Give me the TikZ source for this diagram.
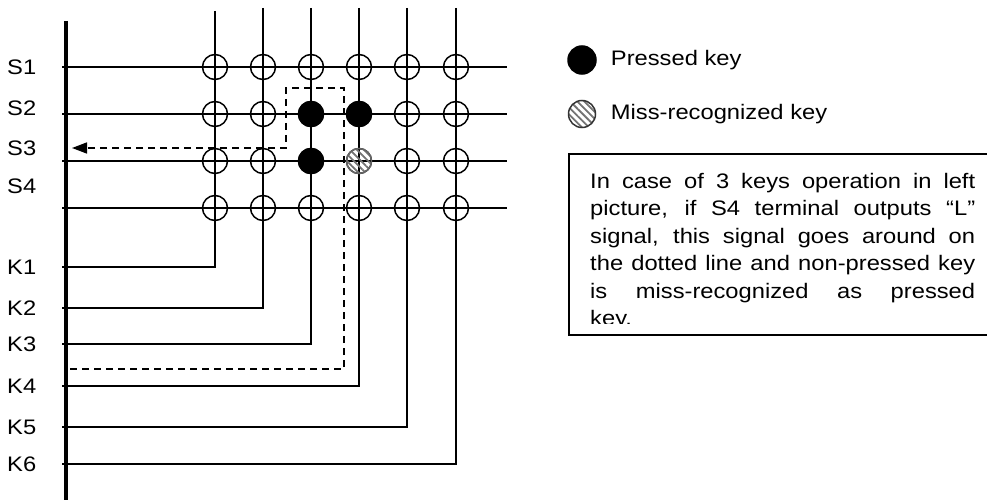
\documentclass[tikz,border=0pt]{standalone}
\usepackage{fontspec}
\setmainfont{Liberation Sans}[FakeStretch=1.13]
\usetikzlibrary{arrows.meta,patterns.meta,positioning}
\tikzstyle{wire} = [draw, line width=1.5pt]
\tikzstyle{bus} = [draw, line width=4pt]
\tikzstyle{sig} = [draw, line width=1.5pt, dash pattern=on 7pt off 5pt, -{Triangle[length=15pt, width=11pt]}]
\tikzstyle{key} = [circle, draw, line width=1.5pt, minimum size=25pt, inner sep=0pt]
\tikzstyle{pressed} = [key, fill=black]
\tikzstyle{missed} = [key, draw=black!60, pattern={Lines[angle=-45, distance=5pt, line width=1.8pt]}, pattern color=black!55]
\tikzstyle{lbl} = [anchor=west, inner sep=0pt, font=\fontsize{21}{25}\selectfont]
\tikzstyle{note_txt} = [anchor=base west, inner sep=0pt, text width=385pt, align=justify, font=\fontsize{21}{27.5}\selectfont]

\begin{document}
\begin{tikzpicture}[x=1pt, y=-1pt]
	\useasboundingbox (0,0) rectangle (987,500);
	
	% scan and key-return lines
	\coordinate (bus_top) at (66,21);
	\coordinate (bus_bot) at (66,500);
	
	\foreach \r/\y/\ty in {1/67/67, 2/114/108, 3/161/148, 4/208/186} {
		\coordinate (S_\r_in) at (62,\y);
		\coordinate (S_\r_out) at (507,\y);
		\path [wire] (S_\r_in) to (S_\r_out);
		\node [lbl] (S_\r) at (7,\ty) {S\r};
	}
	
	\foreach \c/\x/\top/\k in {1/215/11/267, 2/263/8/308, 3/311/8/344, 4/359/8/386, 5/407/8/427, 6/456/8/464} {
		\coordinate (col_\c_top) at (\x,\top);
		\coordinate (K_\c_in) at (62,\k);
		\path [wire] (col_\c_top) |- (K_\c_in);
		\node [lbl] (K_\c) at (7,\k) {K\c};
		\foreach \r/\y in {1/67, 2/114, 3/161, 4/208}
			\node [key] (key_\r_\c) at (\x,\y) {};
	}
	
	\path [bus] (bus_top) to (bus_bot);
	
	
	% 3 keys pressed, 1 key seen by mistake
	\node [pressed] (hit_2_3) at (key_2_3) {};
	\node [pressed] (hit_2_4) at (key_2_4) {};
	\node [pressed] (hit_3_3) at (key_3_3) {};
	\node [missed] (ghost_3_4) at (key_3_4) {};
	
	
	% sneak path back to S3
	\coordinate (loop_start) at (70,369);
	\coordinate (loop_tr) at (344,88);
	\coordinate (loop_bl) at (286,148);
	\coordinate (S_3_sense) at (72,148);
	\path [sig] (loop_start) -| (loop_tr) -| (loop_bl) to (S_3_sense);
	
	
	% legend
	\node [pressed, minimum size=28pt] (leg_pressed) at (582,60) {};
	\node [lbl, right=14pt of leg_pressed] (leg_pressed_txt) {Pressed key};
	\node [missed, draw=black!80, minimum size=27pt] (leg_missed) at (582,114) {};
	\node [lbl, right=14.5pt of leg_missed] (leg_missed_txt) {Miss-recognized key};
	
	\coordinate (note_nw) at (569,154);
	\coordinate (note_se) at (995,335);
	\path [draw, line width=1.6pt] (note_nw) rectangle (note_se);
	\begin{scope}
		\clip (569,154) rectangle (987,323);
		\node [note_txt] (note) at (590,188) {In case of 3 keys operation in left\linebreak picture, if S4 terminal outputs “L”\linebreak signal, this signal goes around on\linebreak the dotted line and non-pressed key\linebreak is miss-recognized as pressed\linebreak key.};
	\end{scope}
\end{tikzpicture}
\end{document}
